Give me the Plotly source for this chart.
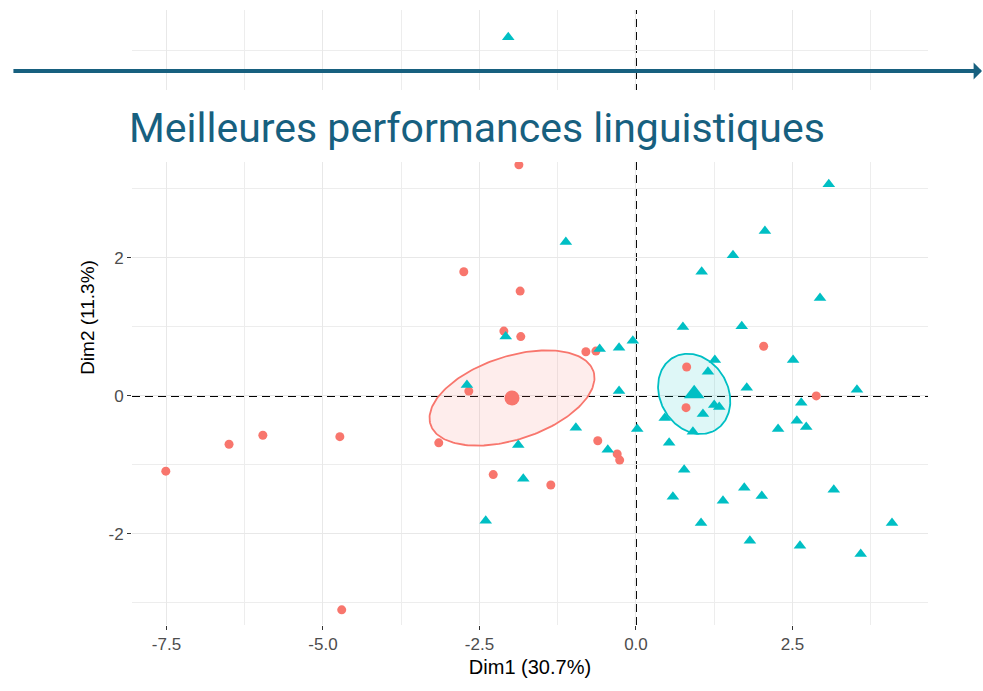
import numpy as np
import plotly.graph_objects as go

# individuals, group 1 (red circles)
red_x = [-1.87, -2.75, -1.85, -2.11, -1.84, -0.80, -0.64, -2.67, -3.15, -0.61, -0.30, -0.26,
         -2.28, -1.36, -7.51, -6.50, -5.96, -4.73, -4.70, 0.81, 2.04, 2.88, 0.80]
red_y = [3.35, 1.80, 1.52, 0.94, 0.86, 0.64, 0.65, 0.07, -0.68, -0.65, -0.84, -0.93,
         -1.14, -1.29, -1.09, -0.70, -0.57, -0.59, -3.10, 0.42, 0.72, 0.00, -0.17]

# individuals, group 2 (teal triangles)
teal_x = [-2.04, -1.12, -2.08, -0.05, -0.27, -0.58, -2.70, -0.27, -0.96, 0.02, -1.88, -0.45,
          -1.80, -2.40, 3.08, 2.06, 1.55, 1.05, 2.94, 0.75, 1.69, 1.26, 2.51, 1.15, 1.77,
          3.53, 2.64, 1.25, 1.33, 1.07, 0.46, 2.57, 2.72, 2.27, 0.91, 0.53, 0.77, 1.73,
          2.01, 3.16, 0.59, 1.39, 1.04, 4.09, 1.82, 2.62, 3.59]
teal_y = [5.20, 2.23, 0.86, 0.80, 0.70, 0.68, 0.16, 0.07, -0.46, -0.48, -0.71, -0.78,
          -1.20, -1.81, 3.07, 2.39, 2.04, 1.80, 1.42, 1.00, 1.01, 0.52, 0.52, 0.35, 0.12,
          0.09, -0.10, -0.13, -0.16, -0.26, -0.32, -0.36, -0.45, -0.48, -0.52, -0.68, -1.07,
          -1.33, -1.45, -1.36, -1.46, -1.52, -1.84, -1.84, -2.10, -2.17, -2.29]

# group centres and ellipse conjugate axes (data units)
red_centre = (-1.98, -0.03)
red_axes = ((1.300, 0.390), (-0.215, 0.570))
teal_centre = (0.93, 0.03)
teal_axes = ((0.335, -0.527), (0.470, 0.246))

# tick labels (ggplot style hyphen minus)
x_ticks = [-7.5, -5.0, -2.5, 0.0, 2.5]
x_labels = ["-7.5", "-5.0", "-2.5", "0.0", "2.5"]
y_ticks = [-2, 0, 2, 4]
y_labels = ["-2", "0", "2", "4"]

RED = "#F8766D"
TEAL = "#00BFC4"
BLUE = "#17607f"


def ellipse(centre, axes, n=200):
    t = np.linspace(0, 2 * np.pi, n)
    (ux, uy), (vx, vy) = axes
    return (centre[0] + ux * np.cos(t) + vx * np.sin(t),
            centre[1] + uy * np.cos(t) + vy * np.sin(t))


fig = go.Figure()

ex, ey = ellipse(red_centre, red_axes)
fig.add_trace(go.Scatter(x=ex, y=ey, mode="lines", fill="toself",
                         fillcolor="rgba(248,118,109,0.13)",
                         line=dict(color=RED, width=1.8), hoverinfo="skip"))
ex, ey = ellipse(teal_centre, teal_axes)
fig.add_trace(go.Scatter(x=ex, y=ey, mode="lines", fill="toself",
                         fillcolor="rgba(0,191,196,0.13)",
                         line=dict(color=TEAL, width=1.8), hoverinfo="skip"))

fig.add_trace(go.Scatter(x=red_x, y=red_y, mode="markers",
                         marker=dict(color=RED, size=9, symbol="circle")))
fig.add_trace(go.Scatter(x=teal_x, y=teal_y, mode="markers",
                         marker=dict(color=TEAL, size=11, symbol="triangle-up")))
fig.add_trace(go.Scatter(x=[red_centre[0]], y=[red_centre[1]], mode="markers",
                         marker=dict(color=RED, size=15, symbol="circle")))
fig.add_trace(go.Scatter(x=[teal_centre[0]], y=[teal_centre[1]], mode="markers",
                         marker=dict(color=TEAL, size=18, symbol="triangle-up")))

# dashed reference lines
fig.add_shape(type="line", xref="x", yref="paper", x0=0, x1=0, y0=0, y1=1,
              line=dict(color="black", width=2, dash="8px,5px"), layer="between")
fig.add_shape(type="line", xref="paper", yref="y", x0=0, x1=1, y0=0, y1=0,
              line=dict(color="black", width=2, dash="8px,5px"), layer="between")

# white banner over the upper part of the plot
fig.add_shape(type="rect", xref="paper", yref="paper", x0=-0.2, x1=1.1,
              y0=0.753, y1=0.870, fillcolor="white", line=dict(width=0), layer="above")

fig.add_annotation(xref="paper", yref="paper", x=1.069, y=0.9008, ax=-971, ay=0,
                   text="", showarrow=True, arrowhead=1, arrowsize=0.7,
                   arrowwidth=4, arrowcolor=BLUE)
fig.add_annotation(xref="paper", yref="paper", x=0.434, y=0.808,
                   text="Meilleures performances linguistiques",
                   showarrow=False, font=dict(family="Roboto", size=41, color=BLUE),
                   xanchor="center", yanchor="middle")

axis_common = dict(showline=False, zeroline=False, ticks="outside", ticklen=4,
                   tickcolor="#333333", gridcolor="#E8E8E8", gridwidth=1.4,
                   tickfont=dict(family="Liberation Sans", size=17, color="#4D4D4D"))

fig.update_layout(
    width=983, height=691,
    margin=dict(l=132, r=55, t=10, b=66),
    paper_bgcolor="white", plot_bgcolor="white",
    showlegend=False,
    xaxis=dict(range=[-8.05, 4.665], tickvals=x_ticks, ticktext=x_labels,
               minor=dict(tick0=0, dtick=1.25, showgrid=True, gridcolor="#EDEDED", gridwidth=1.2),
               title=dict(text="Dim1 (30.7%)", standoff=6,
                          font=dict(family="Liberation Sans", size=20, color="black")),
               **axis_common),
    yaxis=dict(range=[-3.32, 5.594], tickvals=y_ticks, ticktext=y_labels,
               minor=dict(tick0=0, dtick=1, showgrid=True, gridcolor="#EDEDED", gridwidth=1.2),
               title=dict(text="Dim2 (11.3%)", standoff=8,
                          font=dict(family="Liberation Sans", size=19, color="black")),
               **axis_common),
)

fig.write_html("out.html", config={"displayModeBar": False},
               post_script="document.body.style.margin='0';")
